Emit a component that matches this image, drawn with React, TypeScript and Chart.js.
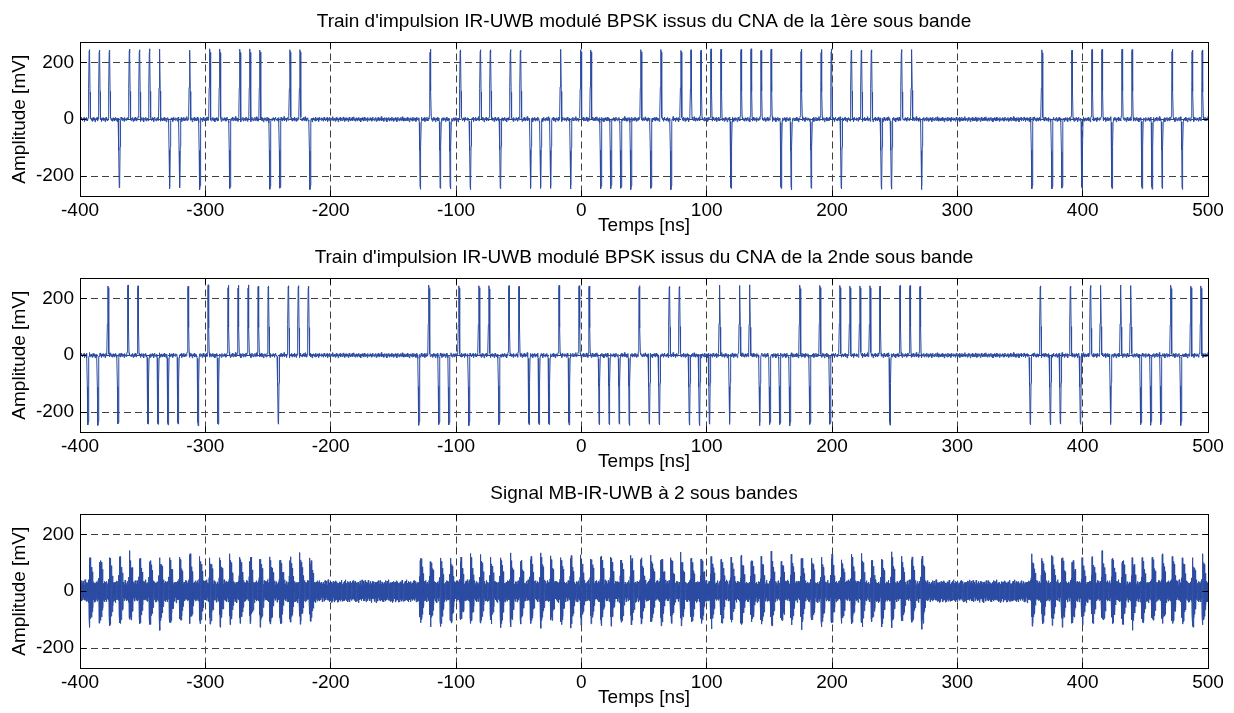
import React, { useEffect, useRef } from 'react';
import { Chart, registerables } from 'chart.js';

Chart.register(...registerables);

// ---------- data ----------
const X_MIN = -400;
const X_MAX = 500;
const X_TICKS = [-400, -300, -200, -100, 0, 100, 200, 300, 400, 500];
const Y_MIN = -270;
const Y_MAX = 270;
const Y_TICKS = [-200, 0, 200];

const TITLES = [
  "Train d'impulsion IR-UWB modulé BPSK issus du CNA de la 1ère sous bande",
  "Train d'impulsion IR-UWB modulé BPSK issus du CNA de la 2nde sous bande",
  'Signal MB-IR-UWB à 2 sous bandes',
];
const X_LABEL = 'Temps [ns]';
const Y_LABEL = 'Amplitude [mV]';

// pulse slots (ns)
const SLOT_START = -392.6;
const SLOT_PERIOD = 8;
const BAND2_DELAY = -1.2;

// BPSK symbols per slot (+1 / -1, 0 = no pulse)
const BAND1_SYMBOLS = [
  1, 1, 1, -1, 1, 1, 1, 1, -1, -1,
  1, -1, 1, 1, -1, 1, 1, 1, -1, -1,
  1, 1, -1, 0, 0, 0, 0, 0, 0, 0,
  0, 0, 0, -1, 1, -1, -1, 1, -1, 1,
  1, -1, 1, 1, -1, -1, -1, 1, -1, 1,
  1, -1, -1, -1, -1, 1, -1, 1, -1, 1,
  1, 1, 1, 1, -1, 1, 1, 1, 1, -1,
  -1, 1, -1, 1, 1, -1, 1, 1, 1, -1,
  -1, 1, 1, -1, 0, 0, 0, 0, 0, 0,
  0, 0, 0, 0, -1, 1, -1, -1, 1, -1,
  1, 1, -1, 1, 1, -1, -1, -1, 1, -1,
  1, 1,
];
const BAND2_SYMBOLS = [
  -1, -1, 1, -1, 1, 1, -1, -1, -1, -1,
  1, -1, 1, -1, 1, 1, 1, 1, 1, -1,
  1, 1, 1, 0, 0, 0, 0, 0, 0, 0,
  0, 0, 0, -1, 1, -1, -1, 1, -1, 1,
  1, -1, 1, 1, -1, -1, -1, 1, -1, 1,
  1, -1, -1, -1, -1, 1, -1, -1, 1, 1,
  -1, -1, -1, 1, -1, 1, 1, -1, -1, -1,
  -1, 1, -1, 1, -1, 1, 1, 1, 1, 1,
  -1, 1, 1, 1, 0, 0, 0, 0, 0, 0,
  0, 0, 0, 0, -1, 1, -1, -1, 1, -1,
  1, 1, -1, 1, 1, -1, -1, -1, 1, -1,
  1, 1,
];

const PULSE_PEAK = 245; // mV
const PULSE_T = [-0.7, -0.35, -0.1, 0.1, 0.35, 0.6, 0.9];
const PULSE_V = [0.04, 0.45, 0.97, 1.0, 0.96, 0.4, 0.03];
const BASE_NOISE = 11; // mV

const MB_BURST_PEAK = 110; // mV
const MB_FLOOR = 22; // mV
const MB_FLOOR_VAR = 22; // mV
const MB_ENV_T = [-0.5, 0, 1.0, 3.0];
const MB_ENV_V = [0, 1, 0.8, 0.25];

// measured noise texture (normalised)
const NOISE = [
  0.12, -0.35, 0.48, -0.05, 0.27, -0.62, 0.18, 0.71, -0.22, 0.05,
  -0.44, 0.33, -0.15, 0.58, -0.71, 0.09, 0.26, -0.38, 0.64, -0.11,
  -0.53, 0.41, 0.02, -0.27, 0.85, -0.46, 0.19, -0.08, 0.37, -0.66,
  0.23, 0.55, -0.31, -0.04, 0.47, -0.82, 0.14, 0.29, -0.19, 0.61,
  -0.57, 0.06, 0.38, -0.24, -0.49, 0.73, -0.13, 0.21, -0.68, 0.44,
  0.01, -0.36, 0.52, -0.09, 0.31, -0.75, 0.16, 0.67, -0.28, 0.04,
  -0.51, 0.35, -0.17, 0.59, -0.42, 0.11, 0.78, -0.33, 0.24, -0.61,
  0.08, 0.46, -0.21, -0.55, 0.39, -0.07, 0.63, -0.47, 0.15, 0.28,
  -0.84, 0.36, -0.12, 0.5, -0.3, 0.2, -0.58, 0.69, -0.02, -0.4,
  0.43, -0.16, 0.25, -0.7, 0.57, -0.26, 0.1,
];

// ---------- series construction ----------
type Pt = { x: number; y: number };

function interp(ts: number[], vs: number[], t: number): number {
  if (t <= ts[0] || t >= ts[ts.length - 1]) return 0;
  for (let j = 1; j < ts.length; j++) {
    if (t <= ts[j]) {
      const f = (t - ts[j - 1]) / (ts[j] - ts[j - 1]);
      return vs[j - 1] + f * (vs[j] - vs[j - 1]);
    }
  }
  return 0;
}

function pulseTrain(symbols: number[], delay: number): Pt[] {
  const pts: Pt[] = [];
  const centers = symbols
    .map((s, k) => ({ t: SLOT_START + k * SLOT_PERIOD + delay, s }))
    .filter((p) => p.s !== 0);
  const w0 = PULSE_T[0];
  const w1 = PULSE_T[PULSE_T.length - 1];
  const step = 0.4;
  let i = 0;
  for (let t = X_MIN - 2; t <= X_MAX + 2; t += step, i++) {
    const inside = centers.some((c) => t >= c.t + w0 && t <= c.t + w1);
    if (!inside) pts.push({ x: t, y: BASE_NOISE * NOISE[i % NOISE.length] });
  }
  centers.forEach((c, ci) => {
    PULSE_T.forEach((dt, j) => {
      const n = NOISE[(ci * 7 + j) % NOISE.length];
      pts.push({ x: c.t + dt, y: c.s * PULSE_PEAK * PULSE_V[j] + 4 * n });
    });
  });
  pts.sort((a, b) => a.x - b.x);
  return pts;
}

function mbSignal(): Pt[] {
  const pts: Pt[] = [];
  const active: number[] = [];
  BAND1_SYMBOLS.forEach((s, k) => {
    if (s !== 0 || BAND2_SYMBOLS[k] !== 0) active.push(SLOT_START + k * SLOT_PERIOD);
  });
  const step = 0.25;
  let i = 0;
  for (let t = X_MIN - 2; t <= X_MAX + 2; t += step, i++) {
    const sgn = i % 2 === 0 ? 1 : -1;
    const n = Math.abs(NOISE[i % NOISE.length]);
    const n2 = Math.abs(NOISE[(i * 3 + 11) % NOISE.length]);
    let env = 0;
    for (const tk of active) {
      const e = interp(MB_ENV_T, MB_ENV_V, t - tk);
      if (e > env) env = e;
    }
    const v = MB_FLOOR + MB_FLOOR_VAR * n + MB_BURST_PEAK * env * (0.7 + 0.35 * n2);
    pts.push({ x: t, y: sgn * v });
  }
  return pts;
}

// ---------- chart ----------
const FONT = { family: '"Liberation Sans", Arial, sans-serif', size: 19, weight: 'normal' as const };
const LINE_COLOR = '#2c4ca2';
const CANVAS_W = 1234;
const CANVAS_H = 240;

const framePlugin = {
  id: 'frame',
  afterDatasetsDraw(chart: any) {
    const { ctx, chartArea: a, scales } = chart;
    const al = (p: number) => Math.round(p - 0.5) + 0.5;
    const L = al(a.left), R = al(a.right), T = al(a.top), B = al(a.bottom);
    ctx.save();
    ctx.setLineDash([]);
    ctx.strokeStyle = '#000';
    ctx.lineWidth = 1;
    const tl = 6;
    ctx.beginPath();
    X_TICKS.forEach((v) => {
      const x = al(scales.x.getPixelForValue(v));
      ctx.moveTo(x, T); ctx.lineTo(x, T + tl);
      ctx.moveTo(x, B); ctx.lineTo(x, B - tl);
    });
    Y_TICKS.forEach((v) => {
      const y = al(scales.y.getPixelForValue(v));
      ctx.moveTo(L, y); ctx.lineTo(L + tl, y);
      ctx.moveTo(R, y); ctx.lineTo(R - tl, y);
    });
    ctx.stroke();
    ctx.strokeRect(L, T, R - L, B - T);
    ctx.restore();
  },
};

function Panel({ title, data, top }: { title: string; data: Pt[]; top: number }) {
  const ref = useRef<HTMLCanvasElement | null>(null);
  useEffect(() => {
    if (!ref.current) return;
    const chart = new Chart(ref.current, {
      type: 'line',
      data: {
        datasets: [
          {
            data: data as any,
            borderColor: LINE_COLOR,
            borderWidth: 1,
            pointRadius: 0,
            tension: 0,
            fill: false,
          },
        ],
      },
      options: {
        animation: false,
        responsive: false,
        events: [],
        parsing: false,
        normalized: true,
        layout: { padding: { top: 10, left: 0, right: 26, bottom: 0 } },
        plugins: {
          legend: { display: false },
          tooltip: { enabled: false },
          title: {
            display: true,
            text: title,
            font: FONT,
            color: '#000',
            fullSize: false,
            padding: { top: 0, bottom: 9.7 },
          },
        },
        scales: {
          x: {
            type: 'linear',
            min: X_MIN,
            max: X_MAX,
            afterBuildTicks: (s: any) => {
              s.ticks = X_TICKS.map((v) => ({ value: v }));
            },
            afterFit: (s: any) => {
              s.height = 44;
            },
            ticks: {
              font: FONT,
              color: '#000',
              padding: 3,
              maxRotation: 0,
              autoSkip: false,
              callback: (v: any) => String(v),
            },
            grid: { color: '#404040', lineWidth: 1, drawTicks: false },
            border: { display: false, dash: [7, 4] },
            title: {
              display: true,
              text: X_LABEL,
              font: FONT,
              color: '#000',
              padding: { top: 0, bottom: 2.5 },
            },
          },
          y: {
            type: 'linear',
            min: Y_MIN,
            max: Y_MAX,
            afterBuildTicks: (s: any) => {
              s.ticks = Y_TICKS.map((v) => ({ value: v }));
            },
            afterFit: (s: any) => {
              s.width = 80;
            },
            ticks: {
              font: FONT,
              color: '#000',
              padding: 6,
              autoSkip: false,
              callback: (v: any) => String(v),
            },
            grid: { color: '#404040', lineWidth: 1, drawTicks: false },
            border: { display: false, dash: [7, 4] },
            title: {
              display: true,
              text: Y_LABEL,
              font: FONT,
              color: '#000',
              padding: { top: 8.5, bottom: 0 },
            },
          },
        },
      } as any,
      plugins: [framePlugin],
    });
    return () => chart.destroy();
  }, [title, data]);
  return (
    <canvas
      ref={ref}
      width={CANVAS_W}
      height={CANVAS_H}
      style={{ position: 'absolute', left: 0, top, width: CANVAS_W, height: CANVAS_H }}
    />
  );
}

const SERIES1 = pulseTrain(BAND1_SYMBOLS, 0);
const SERIES2 = pulseTrain(BAND2_SYMBOLS, BAND2_DELAY);
const SERIES3 = mbSignal();

export default function App() {
  return (
    <div style={{ position: 'absolute', left: 0, top: 0, width: 1234, height: 713, background: '#fff' }}>
      <Panel title={TITLES[0]} data={SERIES1} top={0} />
      <Panel title={TITLES[1]} data={SERIES2} top={236} />
      <Panel title={TITLES[2]} data={SERIES3} top={472} />
    </div>
  );
}
